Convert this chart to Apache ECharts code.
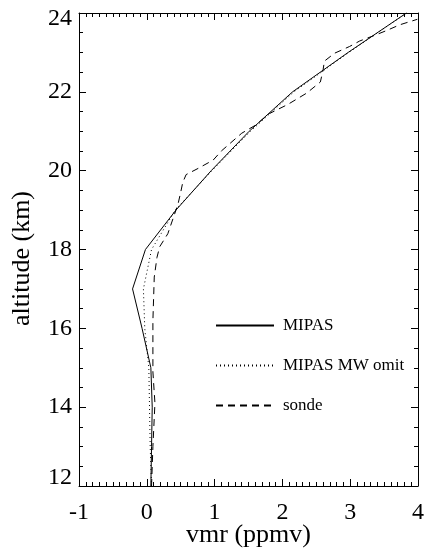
<!DOCTYPE html>
<html>
<head>
<meta charset="utf-8">
<script src="https://cdn.jsdelivr.net/npm/echarts@6/dist/echarts.min.js"></script>
<style>
  html, body { margin: 0; padding: 0; background: #fff; }
  #chart { width: 427px; height: 550px; }
</style>
</head>
<body>
<div id="chart"></div>
<script>
// Water vapour profiles: volume mixing ratio (ppmv) against altitude (km)
const altitudeKm = [12, 13, 14, 15, 16, 17, 18, 19, 20, 21, 22, 23, 24];
const mipasVmr = [0.06, 0.07, 0.08, 0.06, -0.07, -0.21, -0.02, 0.43, 0.95, 1.51, 2.15, 2.97, 3.83];
const mipasMwOmitVmr = [0.07, 0.05, 0.04, 0.03, -0.03, -0.05, 0.07, 0.42, 0.96, 1.53, 2.17, 2.98, 3.83];

// Sonde profile has finer vertical sampling
const sondeAltKm = [12.0, 13.0, 14.1, 14.9, 16.2, 17.3, 17.8, 18.07, 18.4, 18.8, 19.15, 19.45, 19.7, 19.9,
  20.06, 20.27, 20.5, 20.95, 21.15, 21.45, 21.68, 21.97, 22.25, 22.56, 22.78, 22.98, 23.15, 23.29,
  23.42, 23.55, 23.7, 23.84];
const sondeVmr = [0.07, 0.09, 0.12, 0.09, 0.09, 0.11, 0.15, 0.19, 0.31, 0.39, 0.46, 0.50, 0.53, 0.58,
  0.76, 0.98, 1.10, 1.40, 1.60, 1.81, 2.08, 2.36, 2.56, 2.60, 2.62, 2.77, 2.99, 3.14,
  3.34, 3.53, 3.73, 3.99];

const seriesNames = ['MIPAS', 'MIPAS MW omit', 'sonde'];
const xTicks = { min: -1, max: 4, step: 1 };
const yTicks = { min: 12, max: 24, step: 2 };

const pairs = (xs, ys) => xs.map((v, i) => [v, ys[i]]);

const FONT = '"Liberation Serif", "DejaVu Serif", serif';

function axisBase(extra) {
  return Object.assign({
    type: 'value',
    axisLine: { show: true, onZero: false, lineStyle: { color: '#000', width: 1 } },
    axisTick: { show: true, inside: true, length: 7, lineStyle: { color: '#000', width: 1 } },
    splitLine: { show: false },
    minorSplitLine: { show: false }
  }, extra);
}

const tickFont = { color: '#000', fontFamily: FONT, fontSize: 24 };

const option = {
  backgroundColor: '#fff',
  animation: false,
  grid: { left: 79, right: 9, top: 13, bottom: 64, containLabel: false, outerBoundsMode: 'none' },
  xAxis: [
    axisBase({
      position: 'bottom', min: xTicks.min, max: xTicks.max, interval: xTicks.step,
      minorTick: { show: true, splitNumber: 10, length: 4, lineStyle: { color: '#000', width: 1 } },
      axisLabel: Object.assign({ margin: 15, showMinLabel: true, showMaxLabel: true }, tickFont),
      name: 'vmr (ppmv)', nameLocation: 'middle', nameGap: 36, nameMoveOverlap: false,
      nameTextStyle: { color: '#000', fontFamily: FONT, fontSize: 26 }
    }),
    axisBase({
      position: 'top', min: xTicks.min, max: xTicks.max, interval: xTicks.step,
      minorTick: { show: true, splitNumber: 10, length: 4, lineStyle: { color: '#000', width: 1 } },
      axisLabel: { show: false }
    })
  ],
  yAxis: [
    axisBase({
      position: 'left', min: yTicks.min, max: yTicks.max, interval: yTicks.step,
      minorTick: { show: true, splitNumber: 4, length: 4, lineStyle: { color: '#000', width: 1 } },
      axisLabel: Object.assign({
        margin: 7,
        // end labels are kept inside the axis span
        formatter: function (v) {
          if (v === yTicks.max) return '{hi|' + v + '}';
          if (v === yTicks.min) return '{lo|' + v + '}';
          return '{n|' + v + '}';
        },
        rich: {
          n: tickFont,
          hi: Object.assign({ padding: [11, 0, 0, 0] }, tickFont),
          lo: Object.assign({ padding: [0, 0, 16, 0] }, tickFont)
        }
      }, tickFont),
      name: 'altitude (km)', nameLocation: 'middle', nameGap: 44, nameRotate: 90, nameMoveOverlap: false,
      nameTextStyle: { color: '#000', fontFamily: FONT, fontSize: 26, padding: [0, 18, 0, 0] }
    }),
    axisBase({
      position: 'right', min: yTicks.min, max: yTicks.max, interval: yTicks.step,
      minorTick: { show: true, splitNumber: 4, length: 4, lineStyle: { color: '#000', width: 1 } },
      axisLabel: { show: false }
    })
  ],
  legend: {
    orient: 'vertical',
    left: 215,
    top: 317,
    padding: 0,
    itemWidth: 58,
    itemHeight: 14,
    itemGap: 23,
    itemStyle: { color: 'transparent', borderWidth: 0, opacity: 0 },
    textStyle: { color: '#000', fontFamily: FONT, fontSize: 17, padding: [0, 0, 0, 4] },
    data: seriesNames
  },
  series: [
    {
      name: seriesNames[0], type: 'line', symbol: 'none', clip: true,
      lineStyle: { color: '#000', width: 1, type: 'solid' },
      itemStyle: { color: '#000' },
      data: pairs(mipasVmr, altitudeKm)
    },
    {
      name: seriesNames[1], type: 'line', symbol: 'none', clip: true,
      lineStyle: { color: '#000', width: 1, type: [1, 3] },
      itemStyle: { color: '#000' },
      data: pairs(mipasMwOmitVmr, altitudeKm)
    },
    {
      name: seriesNames[2], type: 'line', symbol: 'none', clip: true,
      lineStyle: { color: '#000', width: 1, type: [7, 5] },
      itemStyle: { color: '#000' },
      data: pairs(sondeVmr, sondeAltKm)
    }
  ]
};

const chart = echarts.init(document.getElementById('chart'), null, { renderer: 'canvas' });
chart.setOption(option);
</script>
</body>
</html>
